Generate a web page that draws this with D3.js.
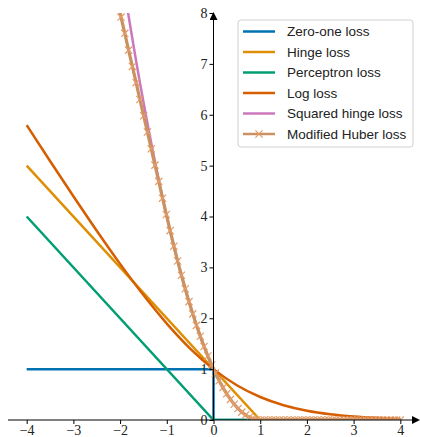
<!DOCTYPE html>
<html>
<head>
<meta charset="utf-8">
<script src="https://cdn.jsdelivr.net/npm/d3@7"></script>
<style>
  body { margin: 0; background: #fff; }
  svg { display: block; }
</style>
</head>
<body>
<div id="plot"></div>
<script>
// series data (sample grid)
const zeroOneX = [-4, 0, 0, 4];
const zeroOneY = [1, 1, 0, 0];
const hingeX = [-4, 1, 4];
const hingeY = [5, 0, 0];
const perceptronX = [-4, 0, 4];
const perceptronY = [4, 0, 0];
const logX = [-4, -3.5, -3, -2.5, -2, -1.5, -1, -0.5, 0, 0.5, 1, 1.5, 2, 2.5, 3, 3.5, 4];
const logY = [5.797, 5.092, 4.398, 3.721, 3.069, 2.455, 1.895, 1.405, 1, 0.684, 0.452, 0.291, 0.183, 0.114, 0.070, 0.043, 0.026];
const gridX = [-2.061, -1.980, -1.899, -1.818, -1.737, -1.657, -1.576, -1.495, -1.414, -1.333,
  -1.253, -1.172, -1.091, -1.010, -0.929, -0.848, -0.768, -0.687, -0.606, -0.525,
  -0.444, -0.364, -0.283, -0.202, -0.121, -0.040, 0.040, 0.121, 0.202, 0.283,
  0.364, 0.444, 0.525, 0.606, 0.687, 0.768, 0.848, 0.929, 1.010, 1.091,
  1.172, 1.253, 1.333, 1.414, 1.495, 1.576, 1.657, 1.737, 1.818, 1.899,
  1.980, 2.061, 2.141, 2.222, 2.303, 2.384, 2.465, 2.545, 2.626, 2.707,
  2.788, 2.869, 2.949, 3.030, 3.111, 3.192, 3.273, 3.354, 3.434, 3.515,
  3.596, 3.677, 3.758, 3.838, 3.919, 4.0];
const sqHingeY = [9.367, 8.879, 8.404, 7.942, 7.493, 7.058, 6.635, 6.225, 5.828, 5.444,
  5.074, 4.716, 4.372, 4.041, 3.722, 3.417, 3.125, 2.846, 2.580, 2.327,
  2.086, 1.860, 1.646, 1.445, 1.257, 1.082, 0.921, 0.772, 0.637, 0.514,
  0.405, 0.309, 0.225, 0.155, 0.098, 0.054, 0.023, 0.005, 0, 0,
  0, 0, 0, 0, 0, 0, 0, 0, 0, 0, 0, 0, 0, 0, 0, 0, 0, 0, 0, 0,
  0, 0, 0, 0, 0, 0, 0, 0, 0, 0, 0, 0, 0, 0, 0, 0];
const huberY = [8.24, 7.92, 7.60, 7.27, 6.95, 6.63, 6.30, 5.98, 5.66, 5.33,
  5.01, 4.69, 4.36, 4.04, 3.722, 3.417, 3.125, 2.846, 2.580, 2.327,
  2.086, 1.860, 1.646, 1.445, 1.257, 1.082, 0.921, 0.772, 0.637, 0.514,
  0.405, 0.309, 0.225, 0.155, 0.098, 0.054, 0.023, 0.005, 0, 0,
  0, 0, 0, 0, 0, 0, 0, 0, 0, 0, 0, 0, 0, 0, 0, 0, 0, 0, 0, 0,
  0, 0, 0, 0, 0, 0, 0, 0, 0, 0, 0, 0, 0, 0, 0, 0];
const labels = ["Zero-one loss", "Hinge loss", "Perceptron loss", "Log loss", "Squared hinge loss", "Modified Huber loss"];
const colors = ["#0173b2", "#de8f05", "#029e73", "#d55e00", "#cc78bc", "#ca9161"];
const xTicks = [-4, -3, -2, -1, 0, 1, 2, 3, 4];
const yTicks = [0, 1, 2, 3, 4, 5, 6, 7, 8];

const width = 421, height = 437;
const markColor = "#e39c68";

const svg = d3.select("#plot").append("svg")
  .attr("width", width)
  .attr("height", height);

const x = d3.scaleLinear().domain([-4.4, 4.4]).range([8, 419]);
const y = d3.scaleLinear().domain([0, 8]).range([420, 13]);

const defs = svg.append("defs");
defs.append("clipPath").attr("id", "clip")
  .append("rect")
  .attr("x", 8).attr("y", 13)
  .attr("width", 411).attr("height", 407);

// arrow heads
defs.append("marker")
  .attr("id", "arrow")
  .attr("viewBox", "0 0 10 10")
  .attr("refX", 5).attr("refY", 5)
  .attr("markerWidth", 8).attr("markerHeight", 8)
  .attr("markerUnits", "userSpaceOnUse")
  .attr("orient", "auto")
  .append("path")
  .attr("d", "M0,0L10,5L0,10z")
  .attr("fill", "#000");

const zip = (xs, ys) => xs.map((v, i) => [v, ys[i]]);
const series = [
  zip(zeroOneX, zeroOneY),
  zip(hingeX, hingeY),
  zip(perceptronX, perceptronY),
  zip(logX, logY),
  zip(gridX, sqHingeY),
  zip(gridX, huberY)
];

const line = d3.line().x(d => x(d[0])).y(d => y(d[1]));
const smooth = d3.line().x(d => x(d[0])).y(d => y(d[1])).curve(d3.curveMonotoneX);

const plot = svg.append("g").attr("clip-path", "url(#clip)");

series.forEach((s, i) => {
  plot.append("path")
    .datum(s)
    .attr("d", i === 3 ? smooth : line)
    .attr("fill", "none")
    .attr("stroke", colors[i])
    .attr("stroke-width", i === 5 ? 3.2 : 2.5)
    .attr("stroke-linejoin", "round");
});

// x markers on modified huber
plot.selectAll(".mk")
  .data(series[5])
  .join("path")
  .attr("class", "mk")
  .attr("transform", d => `translate(${x(d[0])},${y(d[1])})`)
  .attr("d", "M-3.6,-3.6L3.6,3.6M-3.6,3.6L3.6,-3.6")
  .attr("stroke", markColor)
  .attr("stroke-width", 1.2);

// axes through zero
const xAxis = svg.append("g")
  .attr("transform", `translate(0,${y(0)})`)
  .call(d3.axisBottom(x).tickValues(xTicks).tickSize(4).tickSizeOuter(0)
    .tickFormat(d => d < 0 ? "\u2212" + Math.abs(d) : d));
xAxis.select(".domain").remove();
xAxis.attr("font-family", "'Liberation Serif', serif").attr("font-size", 14);
xAxis.selectAll(".tick line").attr("stroke", "#000");
xAxis.selectAll(".tick text").attr("fill", "#222").attr("y", 5.5);

const yAxis = svg.append("g")
  .attr("transform", `translate(${x(0)},0)`)
  .call(d3.axisLeft(y).tickValues(yTicks).tickSize(4).tickSizeOuter(0));
yAxis.select(".domain").remove();
yAxis.attr("font-family", "'Liberation Serif', serif").attr("font-size", 14);
yAxis.selectAll(".tick line").attr("stroke", "#000");
yAxis.selectAll(".tick text").attr("fill", "#222").attr("x", -6);

svg.append("line")
  .attr("x1", 8).attr("x2", 416)
  .attr("y1", y(0)).attr("y2", y(0))
  .attr("stroke", "#000").attr("stroke-width", 1)
  .attr("marker-end", "url(#arrow)");
svg.append("line")
  .attr("x1", x(0)).attr("x2", x(0))
  .attr("y1", y(0)).attr("y2", 16)
  .attr("stroke", "#000").attr("stroke-width", 1)
  .attr("marker-end", "url(#arrow)");

// legend
const legend = svg.append("g")
  .attr("font-family", "'Liberation Sans', sans-serif")
  .attr("font-size", 13.5);
legend.append("rect")
  .attr("x", 238).attr("y", 20)
  .attr("width", 175).attr("height", 127)
  .attr("rx", 3)
  .attr("fill", "#fff").attr("fill-opacity", 0.85)
  .attr("stroke", "#d0d0d0");

const rows = legend.selectAll(".row")
  .data(labels)
  .join("g")
  .attr("class", "row")
  .attr("transform", (d, i) => `translate(243,${31.5 + i * 20.5})`);

rows.append("line")
  .attr("x1", 0).attr("x2", 32)
  .attr("stroke", (d, i) => colors[i])
  .attr("stroke-width", 2.5);
rows.filter((d, i) => i === 5).append("path")
  .attr("d", "M12.4,-3.6L19.6,3.6M12.4,3.6L19.6,-3.6")
  .attr("stroke", markColor)
  .attr("stroke-width", 1.2);
rows.append("text")
  .attr("x", 44)
  .attr("dy", "0.35em")
  .attr("fill", "#222")
  .text(d => d);
</script>
</body>
</html>
